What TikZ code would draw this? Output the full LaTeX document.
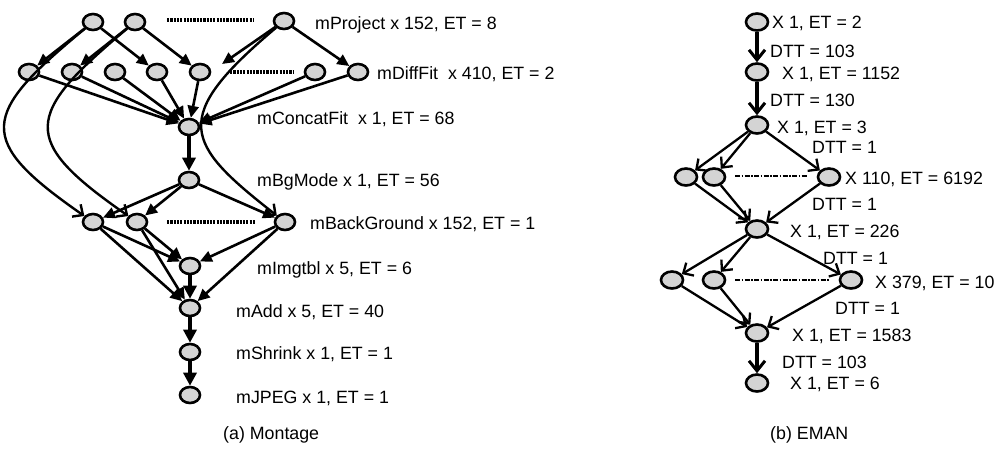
\documentclass[tikz,border=0pt]{standalone}
\usepackage{fontspec}
\setmainfont{Liberation Sans}
\usetikzlibrary{shapes.geometric,arrows.meta}
\definecolor{jobgray}{RGB}{212,212,212}
\begin{document}
\begin{tikzpicture}[x=1pt,y=-1pt,
  font=\fontsize{17.8}{20}\selectfont,
  job/.style={ellipse,draw,line width=2.6pt,fill=jobgray,minimum width=20pt,minimum height=16pt,inner sep=0pt},
  ejob/.style={job,minimum width=22pt,minimum height=17pt},
  lbl/.style={anchor=base west,inner sep=0pt},
  flow/.style={line width=2.6pt,-{Triangle[length=12pt,width=11pt]}},
  mainflow/.style={line width=4pt,-{Triangle[length=13pt,width=13pt]}},
  loop/.style={line width=2.4pt,-{Straight Barb[length=8pt,width=15pt,line width=2.4pt]}},
  eflow/.style={line width=2.3pt,-{Straight Barb[length=8pt,width=15pt,line width=2.3pt]}},
  emain/.style={line width=3.8pt,-{Straight Barb[length=10pt,width=16pt,line width=3pt]}},
  etc/.style={line width=3.2pt,dash pattern=on 2.2pt off 1.1pt},
  eetc/.style={line width=2.6pt,dash pattern=on 5pt off 1.5pt on 1.5pt off 1.5pt},
]
\useasboundingbox (0,0) rectangle (998,448);

% ---------------- Montage ----------------
\node[job] (t1) at (93,22) {};
\node[job] (t2) at (135,22) {};
\node[job] (t3) at (284,21) {};
\node[job] (d1) at (29,72) {};
\node[job] (d2) at (72,72) {};
\node[job] (d3) at (115,72) {};
\node[job] (d4) at (157,72) {};
\node[job] (d5) at (200,72) {};
\node[job] (d6) at (315,72) {};
\node[job] (d7) at (358,72) {};
\node[job] (cf) at (189,127) {};
\node[job] (bg) at (189,180) {};
\node[job] (b1) at (93,222) {};
\node[job] (b2) at (137,222) {};
\node[job] (b3) at (285,222) {};
\node[job] (it) at (190,266) {};
\node[job] (ad) at (190,308) {};
\node[job] (sh) at (190,352) {};
\node[job] (jp) at (190,395) {};
\coordinate (tip) at (222,64);

% ellipsis marks between repeated jobs
\coordinate (e1a) at (167,20); \coordinate (e1b) at (254,20);
\coordinate (e2a) at (230,72); \coordinate (e2b) at (293,72);
\coordinate (e3a) at (167,222); \coordinate (e3b) at (255,222);
\draw[etc] (e1a) -- (e1b);
\draw[etc] (e2a) -- (e2b);
\draw[etc] (e3a) -- (e3b);

% mProject -> mDiffFit
\draw[flow] (t1) -- (d1);
\draw[flow] (t1) -- (d4);
\draw[flow] (t2) -- (d2);
\draw[flow] (t2) -- (d5);
\draw[flow] (t3) -- (tip);
\draw[flow] (t3) -- (d7);
% mProject -> mBackGround
\draw[loop] (t1) .. controls (-20,115) and (-25,140) .. (b1);
\draw[loop] (t2) .. controls (24,115) and (19,140) .. (b2);
\draw[loop] (t3) .. controls (169,118) and (184,143) .. (b3);
% mDiffFit -> mConcatFit
\foreach \d in {d1,d2,d3,d4,d5,d6,d7} \draw[flow] (\d) -- (cf);
\draw[mainflow] (cf) -- (bg);
\draw[flow] (bg) -- (b1);
\draw[flow] (bg) -- (b2);
\draw[flow] (bg) -- (b3);
\foreach \b in {b1,b2,b3} {
  \draw[flow] (\b) -- (it);
  \draw[flow] (\b) -- (ad);
}
\draw[mainflow] (it) -- (ad);
\draw[mainflow] (ad) -- (sh);
\draw[mainflow] (sh) -- (jp);

\node[lbl] (l1) at (315,29) {mProject x 152, ET = 8};
\node[lbl] (l2) at (377,79) {mDiffFit\ \ x 410, ET = 2};
\node[lbl] (l3) at (257,124) {mConcatFit\ \ x 1, ET = 68};
\node[lbl] (l4) at (257,186) {mBgMode x 1, ET = 56};
\node[lbl] (l5) at (310,229) {mBackGround x 152, ET = 1};
\node[lbl] (l6) at (257,274) {mImgtbl x 5, ET = 6};
\node[lbl] (l7) at (236,317) {mAdd x 5, ET = 40};
\node[lbl] (l8) at (236,359) {mShrink x 1, ET = 1};
\node[lbl] (l9) at (236,403) {mJPEG x 1, ET = 1};
\node[lbl] (ca) at (223,439) {(a) Montage};

% ---------------- EMAN ----------------
\node[ejob] (n1) at (757,22) {};
\node[ejob] (n2) at (757,72) {};
\node[ejob] (n3) at (757,125) {};
\node[ejob] (f1) at (686,177) {};
\node[ejob] (f2) at (714,177) {};
\node[ejob] (f3) at (829,177) {};
\node[ejob] (n4) at (757,229) {};
\node[ejob] (g1) at (672,280) {};
\node[ejob] (g2) at (714,280) {};
\node[ejob] (g3) at (851,280) {};
\node[ejob] (n5) at (757,333) {};
\node[ejob] (n6) at (757,383) {};

\coordinate (e4a) at (735,176); \coordinate (e4b) at (808,176);
\coordinate (e5a) at (735,280); \coordinate (e5b) at (830,280);
\draw[eetc] (e4a) -- (e4b);
\draw[eetc] (e5a) -- (e5b);

\draw[emain] (n1) -- (n2);
\draw[emain] (n2) -- (n3);
\foreach \f in {f1,f2,f3} {
  \draw[eflow] (n3) -- (\f);
  \draw[eflow] (\f) -- (n4);
}
\foreach \g in {g1,g2,g3} {
  \draw[eflow] (n4) -- (\g);
  \draw[eflow] (\g) -- (n5);
}
\draw[emain] (n5) -- (n6);

\node[lbl] (m1) at (772,28) {X 1, ET = 2};
\node[lbl] (m2) at (770,57) {DTT = 103};
\node[lbl] (m3) at (782,79) {X 1, ET = 1152};
\node[lbl] (m4) at (770,106) {DTT = 130};
\node[lbl] (m5) at (777,133) {X 1, ET = 3};
\node[lbl] (m6) at (812,153) {DTT = 1};
\node[lbl] (m7) at (845,184) {X 110, ET = 6192};
\node[lbl] (m8) at (812,210) {DTT = 1};
\node[lbl] (m9) at (790,237) {X 1, ET = 226};
\node[lbl] (m10) at (823,264) {DTT = 1};
\node[lbl] (m11) at (875,288) {X 379, ET = 10};
\node[lbl] (m12) at (835,314) {DTT = 1};
\node[lbl] (m13) at (792,341) {X 1, ET = 1583};
\node[lbl] (m14) at (782,368) {DTT = 103};
\node[lbl] (m15) at (790,389) {X 1, ET = 6};
\node[lbl] (cb) at (770,439) {(b) EMAN};
\end{tikzpicture}
\end{document}
